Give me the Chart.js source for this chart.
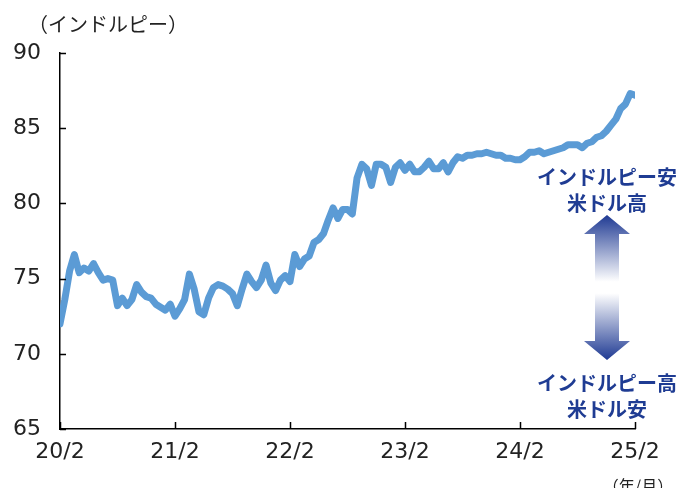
<!DOCTYPE html>
<html>
<head>
<meta charset="utf-8">
<script src="https://cdn.jsdelivr.net/npm/chart.js@4.4.1/dist/chart.umd.min.js"></script>
<style>
  html, body { margin: 0; padding: 0; background: #fff; }
  #wrap { width: 678px; height: 488px; position: relative; }
</style>
</head>
<body>
<div id="wrap"><canvas id="chart" width="678" height="488"></canvas></div>
<script>
// USD/INR, half-month steps from 2020/2 to 2025/2
const tickLabels = ['20/2', '21/2', '22/2', '23/2', '24/2', '25/2'];
const yTicks = [65, 70, 75, 80, 85, 90];
const rate = [
  72.0, 73.6, 75.5, 76.6, 75.4, 75.7, 75.5, 76.0, 75.4, 74.9,
  75.0, 74.9, 73.2, 73.7, 73.2, 73.6, 74.6, 74.1, 73.8, 73.7,
  73.3, 73.1, 72.9, 73.3, 72.5, 73.0, 73.6, 75.3, 74.3, 72.8,
  72.6, 73.7, 74.4, 74.6, 74.5, 74.3, 74.0, 73.2, 74.3, 75.3,
  74.8, 74.4, 74.9, 75.9, 74.7, 74.2, 74.9, 75.2, 74.8, 76.6,
  75.8, 76.3, 76.5, 77.4, 77.6, 78.0, 78.9, 79.7, 79.0, 79.6,
  79.6, 79.3, 81.7, 82.6, 82.3, 81.2, 82.6, 82.6, 82.4, 81.4,
  82.4, 82.7, 82.2, 82.6, 82.1, 82.1, 82.4, 82.8, 82.3, 82.3,
  82.7, 82.1, 82.7, 83.1, 83.0, 83.2, 83.2, 83.3, 83.3, 83.4,
  83.3, 83.2, 83.2, 83.0, 83.0, 82.9, 82.9, 83.1, 83.4, 83.4,
  83.5, 83.3, 83.4, 83.5, 83.6, 83.7, 83.9, 83.9, 83.9, 83.7,
  84.0, 84.1, 84.4, 84.5, 84.8, 85.2, 85.6, 86.3, 86.6, 87.3,
  87.2
];
const upLabel = ['インドルピー安', '米ドル高'];
const downLabel = ['インドルピー高', '米ドル安'];

const points = rate.map((v, i) => ({ x: i / 2, y: v }));

const JP = '"Noto Sans CJK JP", "Noto Sans", sans-serif';
const NAVY = '#1f3c93';

// inward tick marks + text + double arrow
const extras = {
  id: 'extras',
  afterDraw(chart) {
    const ctx = chart.ctx;
    const xs = chart.scales.x, ys = chart.scales.y;
    const area = chart.chartArea;
    ctx.save();
    ctx.strokeStyle = '#000';
    ctx.lineWidth = 1.5;
    ctx.beginPath();
    yTicks.forEach(v => {
      const py = Math.round(ys.getPixelForValue(v)) + 0.5;
      ctx.moveTo(area.left, py);
      ctx.lineTo(area.left + 6, py);
    });
    tickLabels.forEach((t, i) => {
      const px = Math.round(xs.getPixelForValue(i * 12)) + 0.5;
      ctx.moveTo(px, area.bottom);
      ctx.lineTo(px, area.bottom - 7);
    });
    ctx.stroke();

    // unit labels
    ctx.fillStyle = '#222';
    ctx.font = '20px ' + JP;
    ctx.textAlign = 'left';
    ctx.textBaseline = 'middle';
    ctx.fillText('（インドルピー）', 28, 24);
    ctx.font = '16px ' + JP;
    ctx.textAlign = 'center';
    ctx.fillText('（年/月）', 638, 486);

    // annotation text
    const cx = 607;
    ctx.fillStyle = NAVY;
    ctx.font = 'bold 20px ' + JP;
    ctx.fillText(upLabel[0], cx, 177);
    ctx.fillText(upLabel[1], cx, 203);
    ctx.fillText(downLabel[0], cx, 383);
    ctx.fillText(downLabel[1], cx, 409);

    // gradient double arrow
    const top = 215, bot = 360, headH = 19, headW = 23, shaftW = 12;
    const g = ctx.createLinearGradient(0, top, 0, bot);
    g.addColorStop(0, '#1f3a93');
    g.addColorStop(0.46, '#ffffff');
    g.addColorStop(0.54, '#ffffff');
    g.addColorStop(1, '#1f3a93');
    ctx.fillStyle = g;
    ctx.beginPath();
    ctx.moveTo(cx, top);
    ctx.lineTo(cx + headW, top + headH);
    ctx.lineTo(cx + shaftW, top + headH);
    ctx.lineTo(cx + shaftW, bot - headH);
    ctx.lineTo(cx + headW, bot - headH);
    ctx.lineTo(cx, bot);
    ctx.lineTo(cx - headW, bot - headH);
    ctx.lineTo(cx - shaftW, bot - headH);
    ctx.lineTo(cx - shaftW, top + headH);
    ctx.lineTo(cx - headW, top + headH);
    ctx.closePath();
    ctx.fill();
    ctx.restore();
  }
};

new Chart(document.getElementById('chart'), {
  type: 'line',
  data: {
    datasets: [{
      data: points,
      borderColor: '#5b9bd5',
      borderWidth: 7,
      borderJoinStyle: 'round',
      borderCapStyle: 'round',
      pointRadius: 0,
      tension: 0
    }]
  },
  options: {
    responsive: false,
    animation: false,
    devicePixelRatio: 1,
    layout: { padding: { top: 53, right: 43, bottom: 19, left: 0 } },
    plugins: { legend: { display: false }, tooltip: { enabled: false } },
    scales: {
      x: {
        type: 'linear',
        min: 0,
        max: 60,
        grid: { display: true, drawOnChartArea: false, drawTicks: false },
        border: { display: true, color: '#000', width: 1.5 },
        ticks: {
          stepSize: 12,
          autoSkip: false,
          maxRotation: 0,
          padding: 10,
          color: '#222',
          font: { family: 'DejaVu Sans', size: 22 },
          callback: v => tickLabels[v / 12]
        },
        afterFit: s => { s.height = 40; }
      },
      y: {
        min: 65,
        max: 90,
        grid: { display: true, drawOnChartArea: false, drawTicks: false },
        border: { display: true, color: '#000', width: 1.5 },
        ticks: {
          stepSize: 5,
          padding: 19,
          color: '#222',
          font: { family: 'DejaVu Sans', size: 22 }
        },
        afterFit: s => { s.width = 60; }
      }
    }
  },
  plugins: [extras]
});
</script>
</body>
</html>
